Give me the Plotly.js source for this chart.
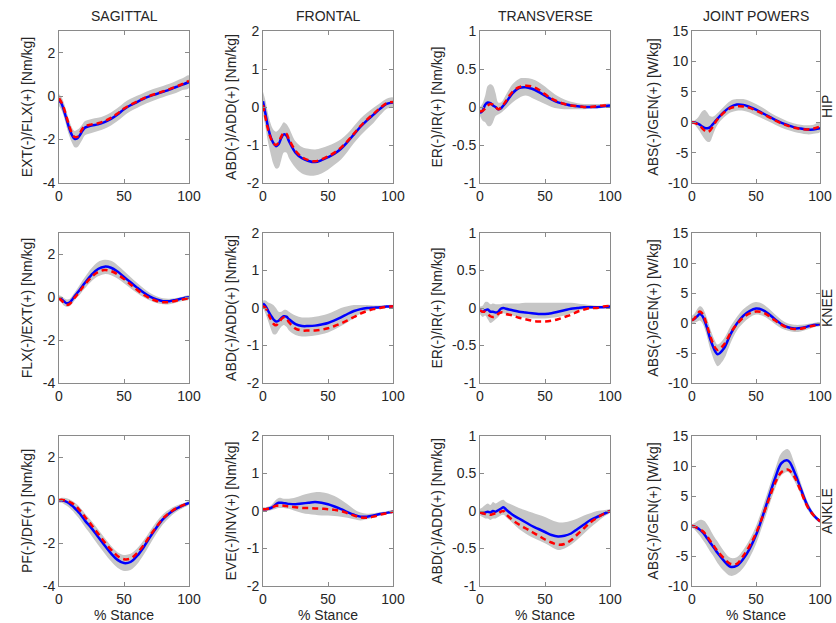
<!DOCTYPE html>
<html>
<head>
<meta charset="utf-8">
<script src="https://cdn.plot.ly/plotly-3.0.1.min.js"></script>
<style>html,body{margin:0;padding:0;background:#fff;overflow:hidden}#chart{width:836px;height:623px}</style>
</head>
<body>
<div id="chart"></div>
<script>
// % stance sample points
const stance = [0,2,4,6,8,10,12,14,16,18,20,25,30,35,40,45,50,55,60,65,70,75,80,85,90,95,100];

// column titles, row labels, axis titles
const columnTitles = ['SAGITTAL','FRONTAL','TRANSVERSE','JOINT POWERS'];
const rowLabels = ['HIP','KNEE','ANKLE'];
const yTitles = [
  ['EXT(-)/FLX(+) [Nm/kg]','ABD(-)/ADD(+) [Nm/kg]','ER(-)/IR(+) [Nm/kg]','ABS(-)/GEN(+) [W/kg]'],
  ['FLX(-)/EXT(+) [Nm/kg]','ABD(-)/ADD(+) [Nm/kg]','ER(-)/IR(+) [Nm/kg]','ABS(-)/GEN(+) [W/kg]'],
  ['PF(-)/DF(+) [Nm/kg]','EVE(-)/INV(+) [Nm/kg]','ABD(-)/ADD(+) [Nm/kg]','ABS(-)/GEN(+) [W/kg]']
];
const xTitle = '% Stance';
const xTicks = [0,50,100];
const yRanges = [[-4,3],[-2,2],[-1,1],[-10,15]];
const yTicks = [[-4,-2,0,2],[-2,-1,0,1,2],[-1,-0.5,0,0.5,1],[-10,-5,0,5,10,15]];

// HIP
const hipSagBlue = [-0.2,-0.35,-0.7,-1.1,-1.5,-1.8,-1.97,-1.95,-1.8,-1.6,-1.45,-1.35,-1.3,-1.2,-1.05,-0.85,-0.6,-0.42,-0.27,-0.12,0.0,0.1,0.2,0.3,0.42,0.53,0.65];
const hipSagRed  = [-0.1,-0.3,-0.6,-1.0,-1.4,-1.7,-1.88,-1.88,-1.72,-1.5,-1.38,-1.3,-1.25,-1.15,-1.0,-0.8,-0.57,-0.4,-0.25,-0.1,0.02,0.12,0.22,0.32,0.44,0.56,0.7];
const hipSagHi   = [0.1,-0.05,-0.35,-0.75,-1.15,-1.45,-1.6,-1.55,-1.45,-1.3,-1.15,-1.05,-1.0,-0.9,-0.75,-0.55,-0.3,-0.12,0.02,0.15,0.27,0.37,0.47,0.57,0.7,0.82,0.95];
const hipSagLo   = [-0.45,-0.65,-1.0,-1.45,-1.85,-2.15,-2.35,-2.35,-2.2,-2.0,-1.8,-1.7,-1.6,-1.5,-1.35,-1.15,-0.9,-0.7,-0.55,-0.4,-0.27,-0.15,-0.05,0.05,0.15,0.28,0.38];

const hipFroBlue = [0.15,-0.2,-0.55,-0.8,-0.95,-1.03,-0.98,-0.82,-0.72,-0.75,-0.9,-1.2,-1.35,-1.42,-1.45,-1.4,-1.32,-1.23,-1.1,-0.92,-0.72,-0.52,-0.35,-0.2,-0.05,0.08,0.12];
const hipFroRed  = [0.05,-0.3,-0.6,-0.82,-0.95,-1.0,-0.93,-0.78,-0.68,-0.7,-0.85,-1.15,-1.32,-1.4,-1.43,-1.38,-1.3,-1.2,-1.07,-0.9,-0.7,-0.5,-0.33,-0.18,-0.03,0.1,0.13];
const hipFroHi   = [0.4,0.15,-0.2,-0.45,-0.6,-0.65,-0.6,-0.5,-0.4,-0.45,-0.55,-0.9,-1.05,-1.1,-1.12,-1.08,-1.02,-0.95,-0.85,-0.7,-0.5,-0.3,-0.15,-0.02,0.1,0.22,0.25];
const hipFroLo   = [-0.15,-0.55,-0.95,-1.25,-1.5,-1.62,-1.6,-1.4,-1.2,-1.2,-1.35,-1.6,-1.75,-1.8,-1.8,-1.75,-1.65,-1.52,-1.38,-1.18,-0.95,-0.75,-0.58,-0.42,-0.22,-0.05,0.0];

const hipTraBlue = [-0.08,-0.05,0.03,0.06,0.05,0.02,0.0,-0.03,-0.02,0.02,0.06,0.18,0.25,0.26,0.24,0.2,0.15,0.1,0.06,0.04,0.02,0.01,0.0,0.0,0.0,0.01,0.02];
const hipTraRed  = [-0.06,-0.05,-0.02,0.02,0.04,0.03,0.0,-0.03,-0.01,0.03,0.08,0.2,0.26,0.28,0.27,0.23,0.17,0.11,0.07,0.04,0.02,0.01,0.0,0.0,0.01,0.02,0.02];
const hipTraHi   = [0.0,0.05,0.15,0.28,0.3,0.28,0.18,0.06,0.06,0.1,0.16,0.3,0.37,0.38,0.37,0.33,0.27,0.2,0.14,0.1,0.07,0.05,0.04,0.04,0.04,0.04,0.04];
const hipTraLo   = [-0.12,-0.18,-0.2,-0.25,-0.25,-0.2,-0.12,-0.1,-0.08,-0.05,-0.02,0.06,0.12,0.15,0.12,0.08,0.04,0.0,-0.02,-0.03,-0.03,-0.03,-0.03,-0.02,-0.02,-0.01,0.0];

const hipPowBlue = [0.0,-0.05,-0.2,-0.4,-0.7,-0.95,-1.0,-0.85,-0.4,0.1,0.6,1.7,2.5,2.9,2.85,2.5,2.05,1.5,0.95,0.4,-0.1,-0.5,-0.85,-1.05,-1.2,-1.2,-1.0];
const hipPowRed  = [0.0,-0.1,-0.3,-0.6,-1.0,-1.4,-1.6,-1.4,-0.8,-0.1,0.5,1.6,2.3,2.6,2.6,2.35,1.9,1.4,0.85,0.3,-0.2,-0.6,-0.9,-1.1,-1.2,-1.05,-0.7];
const hipPowHi   = [0.3,0.3,0.6,1.2,1.8,2.0,1.6,1.0,0.9,1.1,1.5,2.6,3.5,3.8,3.8,3.5,3.0,2.4,1.7,1.1,0.6,0.1,-0.2,-0.4,-0.5,-0.4,0.0];
const hipPowLo   = [-0.3,-0.4,-0.9,-1.5,-2.2,-2.8,-3.2,-3.2,-2.3,-1.2,-0.4,0.8,1.6,1.9,1.9,1.6,1.1,0.6,0.1,-0.4,-0.9,-1.3,-1.6,-1.8,-2.0,-1.9,-1.6];

// KNEE
const kneeSagBlue = [-0.05,-0.1,-0.2,-0.28,-0.25,-0.12,0.05,0.2,0.35,0.52,0.68,1.05,1.32,1.43,1.38,1.2,0.95,0.7,0.45,0.22,0.03,-0.1,-0.18,-0.18,-0.12,-0.05,0.0];
const kneeSagRed  = [-0.05,-0.15,-0.28,-0.35,-0.32,-0.2,-0.02,0.12,0.28,0.45,0.6,0.95,1.18,1.27,1.22,1.07,0.85,0.6,0.35,0.12,-0.05,-0.17,-0.23,-0.22,-0.16,-0.1,-0.05];
const kneeSagHi   = [0.1,0.05,-0.05,-0.1,-0.08,0.05,0.22,0.4,0.58,0.78,0.95,1.35,1.65,1.75,1.7,1.5,1.23,0.95,0.68,0.42,0.2,0.05,-0.05,-0.07,-0.03,0.03,0.08];
const kneeSagLo   = [-0.15,-0.25,-0.4,-0.45,-0.42,-0.3,-0.15,0.0,0.12,0.28,0.42,0.75,0.98,1.08,1.03,0.88,0.66,0.42,0.2,0.0,-0.15,-0.27,-0.33,-0.32,-0.25,-0.17,-0.1];

const kneeFroBlue = [0.12,0.05,-0.08,-0.2,-0.3,-0.36,-0.34,-0.27,-0.22,-0.23,-0.3,-0.43,-0.48,-0.48,-0.47,-0.44,-0.4,-0.33,-0.25,-0.16,-0.08,-0.03,0.0,0.01,0.02,0.04,0.05];
const kneeFroRed  = [0.05,0.0,-0.15,-0.3,-0.42,-0.46,-0.4,-0.3,-0.25,-0.28,-0.38,-0.55,-0.6,-0.6,-0.6,-0.58,-0.54,-0.48,-0.41,-0.33,-0.24,-0.15,-0.08,-0.03,0.0,0.03,0.05];
const kneeFroHi   = [0.2,0.2,0.15,0.12,0.08,0.0,-0.1,-0.1,-0.05,-0.05,-0.1,-0.2,-0.25,-0.25,-0.23,-0.2,-0.15,-0.08,0.0,0.05,0.08,0.08,0.08,0.07,0.07,0.08,0.08];
const kneeFroLo   = [0.0,-0.15,-0.35,-0.55,-0.7,-0.7,-0.6,-0.5,-0.45,-0.5,-0.6,-0.72,-0.76,-0.75,-0.73,-0.7,-0.65,-0.57,-0.48,-0.38,-0.25,-0.15,-0.08,-0.04,-0.02,0.0,0.02];

const kneeTraBlue = [-0.03,-0.05,-0.03,-0.02,-0.05,-0.05,-0.06,-0.05,-0.01,0.0,-0.01,-0.03,-0.05,-0.06,-0.07,-0.08,-0.08,-0.07,-0.05,-0.03,-0.01,0.0,0.01,0.01,0.01,0.01,0.02];
const kneeTraRed  = [-0.03,-0.05,-0.05,-0.08,-0.11,-0.12,-0.11,-0.08,-0.06,-0.06,-0.08,-0.1,-0.13,-0.15,-0.17,-0.18,-0.18,-0.17,-0.15,-0.12,-0.09,-0.05,-0.02,0.0,0.0,0.02,0.03];
const kneeTraHi   = [0.02,0.03,0.08,0.08,0.05,0.06,0.05,0.05,0.05,0.06,0.06,0.06,0.06,0.07,0.07,0.07,0.07,0.07,0.07,0.07,0.07,0.06,0.05,0.04,0.03,0.03,0.04];
const kneeTraLo   = [-0.08,-0.12,-0.1,-0.15,-0.2,-0.18,-0.15,-0.12,-0.08,-0.07,-0.08,-0.1,-0.12,-0.13,-0.14,-0.14,-0.14,-0.13,-0.12,-0.1,-0.07,-0.04,-0.02,-0.01,-0.01,0.0,0.0];

const kneePowBlue = [0.5,0.7,1.1,1.5,1.2,0.3,-1.0,-2.5,-3.7,-4.7,-5.2,-4.2,-1.9,-0.1,1.2,2.0,2.4,2.2,1.5,0.6,-0.2,-0.7,-0.9,-0.85,-0.6,-0.35,-0.2];
const kneePowRed  = [0.4,0.8,1.4,1.9,1.6,0.7,-0.6,-2.0,-3.2,-4.1,-4.5,-3.6,-1.7,-0.2,0.9,1.6,1.9,1.8,1.2,0.4,-0.3,-0.8,-1.0,-0.95,-0.7,-0.45,-0.3];
const kneePowHi   = [1.2,1.6,2.3,2.8,2.6,1.8,0.6,-0.8,-2.0,-3.0,-3.6,-2.6,-0.6,1.0,2.3,3.1,3.5,3.2,2.4,1.4,0.5,-0.1,-0.3,-0.3,-0.15,0.0,0.1];
const kneePowLo   = [-0.2,0.0,0.2,0.4,0.0,-1.0,-2.5,-4.2,-5.5,-6.6,-7.2,-6.0,-3.4,-1.3,0.0,0.9,1.4,1.2,0.6,-0.2,-0.9,-1.3,-1.5,-1.4,-1.1,-0.7,-0.5];

// ANKLE
const ankSagBlue = [0.0,0.0,-0.03,-0.08,-0.15,-0.25,-0.36,-0.48,-0.62,-0.78,-0.95,-1.3,-1.7,-2.1,-2.48,-2.78,-2.93,-2.88,-2.6,-2.2,-1.72,-1.27,-0.88,-0.6,-0.4,-0.25,-0.12];
const ankSagRed  = [0.0,0.02,0.0,-0.03,-0.07,-0.13,-0.22,-0.33,-0.47,-0.62,-0.78,-1.15,-1.55,-1.95,-2.3,-2.6,-2.75,-2.72,-2.47,-2.1,-1.65,-1.23,-0.85,-0.58,-0.38,-0.24,-0.12];
const ankSagHi   = [0.1,0.12,0.12,0.1,0.05,-0.02,-0.1,-0.2,-0.32,-0.46,-0.62,-0.97,-1.35,-1.75,-2.12,-2.42,-2.55,-2.5,-2.25,-1.88,-1.43,-1.0,-0.65,-0.42,-0.26,-0.15,-0.05];
const ankSagLo   = [-0.1,-0.12,-0.18,-0.26,-0.35,-0.47,-0.6,-0.75,-0.9,-1.07,-1.25,-1.65,-2.07,-2.47,-2.85,-3.15,-3.3,-3.25,-2.98,-2.55,-2.05,-1.55,-1.12,-0.8,-0.55,-0.37,-0.2];

const ankFroBlue = [0.05,0.05,0.06,0.08,0.12,0.18,0.22,0.22,0.21,0.2,0.19,0.18,0.2,0.22,0.24,0.22,0.18,0.12,0.05,-0.03,-0.1,-0.15,-0.15,-0.12,-0.08,-0.05,-0.02];
const ankFroRed  = [0.05,0.05,0.06,0.08,0.11,0.14,0.15,0.15,0.14,0.13,0.12,0.1,0.08,0.08,0.07,0.06,0.05,0.03,0.0,-0.06,-0.12,-0.17,-0.18,-0.15,-0.1,-0.06,-0.02];
const ankFroHi   = [0.1,0.1,0.12,0.15,0.22,0.3,0.35,0.35,0.33,0.33,0.33,0.36,0.42,0.47,0.5,0.5,0.47,0.4,0.3,0.18,0.05,-0.04,-0.07,-0.06,-0.03,-0.01,0.02];
const ankFroLo   = [0.0,0.0,0.0,0.02,0.04,0.06,0.08,0.08,0.08,0.07,0.06,0.0,-0.05,-0.08,-0.1,-0.12,-0.12,-0.13,-0.15,-0.18,-0.22,-0.25,-0.22,-0.18,-0.12,-0.08,-0.05];

const ankTraBlue = [-0.02,-0.03,-0.02,-0.01,-0.02,0.0,-0.01,0.01,0.03,0.05,0.02,-0.05,-0.1,-0.15,-0.2,-0.24,-0.28,-0.32,-0.34,-0.33,-0.3,-0.24,-0.18,-0.12,-0.08,-0.04,0.0];
const ankTraRed  = [-0.02,-0.03,-0.04,-0.04,-0.05,-0.04,-0.03,-0.03,-0.01,0.0,-0.04,-0.12,-0.18,-0.23,-0.28,-0.33,-0.38,-0.42,-0.45,-0.44,-0.39,-0.31,-0.23,-0.15,-0.09,-0.04,0.0];
const ankTraHi   = [0.03,0.05,0.08,0.1,0.08,0.12,0.1,0.12,0.14,0.15,0.12,0.08,0.04,0.01,-0.02,-0.05,-0.08,-0.12,-0.15,-0.15,-0.13,-0.1,-0.06,-0.03,0.0,0.01,0.02];
const ankTraLo   = [-0.06,-0.08,-0.1,-0.1,-0.12,-0.1,-0.1,-0.08,-0.06,-0.05,-0.08,-0.16,-0.24,-0.3,-0.35,-0.39,-0.43,-0.48,-0.52,-0.5,-0.45,-0.38,-0.3,-0.22,-0.15,-0.08,-0.02];

const ankPowBlue = [0.0,-0.1,-0.3,-0.6,-1.0,-1.5,-2.1,-2.7,-3.3,-3.9,-4.5,-5.8,-6.8,-6.6,-5.5,-3.8,-1.5,1.5,4.8,8.0,10.5,10.9,9.0,6.2,3.5,1.8,0.8];
const ankPowRed  = [0.0,-0.1,-0.3,-0.5,-0.8,-1.2,-1.8,-2.4,-3.0,-3.6,-4.2,-5.4,-6.3,-6.3,-5.0,-3.3,-1.2,1.5,4.4,7.2,9.0,9.4,8.2,5.8,3.3,1.8,0.8];
const ankPowHi   = [0.3,0.5,0.8,1.0,1.0,0.8,0.2,-0.5,-1.3,-2.0,-2.6,-4.2,-5.3,-5.2,-4.0,-2.3,0.0,3.0,6.3,9.5,12.2,12.8,10.5,7.2,4.2,2.2,1.0];
const ankPowLo   = [-0.3,-0.6,-1.1,-1.6,-2.2,-2.8,-3.5,-4.2,-4.8,-5.5,-6.2,-7.5,-8.3,-8.0,-7.0,-5.3,-3.0,0.0,3.2,6.3,8.5,9.0,7.5,5.2,2.8,1.4,0.5];

const panels = [
  [hipSagBlue,hipSagRed,hipSagHi,hipSagLo],[hipFroBlue,hipFroRed,hipFroHi,hipFroLo],[hipTraBlue,hipTraRed,hipTraHi,hipTraLo],[hipPowBlue,hipPowRed,hipPowHi,hipPowLo],
  [kneeSagBlue,kneeSagRed,kneeSagHi,kneeSagLo],[kneeFroBlue,kneeFroRed,kneeFroHi,kneeFroLo],[kneeTraBlue,kneeTraRed,kneeTraHi,kneeTraLo],[kneePowBlue,kneePowRed,kneePowHi,kneePowLo],
  [ankSagBlue,ankSagRed,ankSagHi,ankSagLo],[ankFroBlue,ankFroRed,ankFroHi,ankFroLo],[ankTraBlue,ankTraRed,ankTraHi,ankTraLo],[ankPowBlue,ankPowRed,ankPowHi,ankPowLo]
];

// layout geometry (pixels)
const W = 836, H = 623;
const colPx = [[59,189],[263,393],[480,610],[692,820]];
const rowPx = [[31,183],[233,383],[436,586]];

const FONT = 'Liberation Sans, Arial, sans-serif';
const traces = [];
const layout = {
  width: W, height: H, margin: {l:0,r:0,t:0,b:0},
  paper_bgcolor: '#ffffff', plot_bgcolor: '#ffffff',
  showlegend: false, font: {family: FONT, size: 14, color: '#262626'},
  annotations: []
};

for (let r = 0; r < 3; r++) {
  for (let c = 0; c < 4; c++) {
    const i = r*4 + c + 1;
    const xa = 'x' + i, ya = 'y' + i;
    const [blue, red, hi, lo] = panels[i-1];
    traces.push({
      x: stance.concat(stance.slice().reverse()),
      y: hi.concat(lo.slice().reverse()),
      xaxis: xa, yaxis: ya, mode: 'lines', fill: 'toself',
      fillcolor: '#c6c6c6', line: {width: 0, shape: 'spline', color: '#c6c6c6'},
      hoverinfo: 'skip'
    });
    traces.push({x: stance, y: blue, xaxis: xa, yaxis: ya, mode: 'lines',
      line: {color: '#0000ff', width: 2.5, shape: 'spline'}});
    traces.push({x: stance, y: red, xaxis: xa, yaxis: ya, mode: 'lines',
      line: {color: '#ff0000', width: 2.5, dash: '6px,4px', shape: 'spline'}});

    const axCommon = {
      showline: true, mirror: 'ticks', linecolor: '#8a8a8a', linewidth: 1,
      ticks: 'inside', ticklen: 4, tickcolor: '#8a8a8a',
      showgrid: false, zeroline: false,
      tickfont: {family: FONT, size: 14, color: '#262626'}
    };
    layout['xaxis' + i] = Object.assign({}, axCommon, {
      domain: [colPx[c][0]/W, colPx[c][1]/W], anchor: ya,
      range: [0,100], tickvals: xTicks, ticktext: xTicks.map(String),
      title: r === 2 ? {text: xTitle, font: {family: FONT, size: 14, color: '#262626'}, standoff: 2} : {text: ''}
    });
    layout['yaxis' + i] = Object.assign({}, axCommon, {
      domain: [1 - rowPx[r][1]/H, 1 - rowPx[r][0]/H], anchor: xa,
      range: yRanges[c], tickvals: yTicks[c], ticktext: yTicks[c].map(String),
      title: {text: yTitles[r][c], font: {family: FONT, size: 14, color: '#262626'}, standoff: 6}
    });
  }
}

columnTitles.forEach((t, c) => {
  layout.annotations.push({
    text: t, xref: 'paper', yref: 'paper',
    x: (colPx[c][0] + colPx[c][1]) / 2 / W, y: 1 - 16/H,
    xanchor: 'center', yanchor: 'middle', showarrow: false,
    font: {family: FONT, size: 14, color: '#262626'}
  });
});
rowLabels.forEach((t, r) => {
  layout.annotations.push({
    text: t, xref: 'paper', yref: 'paper',
    x: 827/W, y: 1 - (rowPx[r][0] + rowPx[r][1]) / 2 / H,
    xanchor: 'center', yanchor: 'middle', textangle: -90, showarrow: false,
    font: {family: FONT, size: 14, color: '#262626'}
  });
});

Plotly.newPlot('chart', traces, layout, {staticPlot: true, displayModeBar: false});
</script>
</body>
</html>
